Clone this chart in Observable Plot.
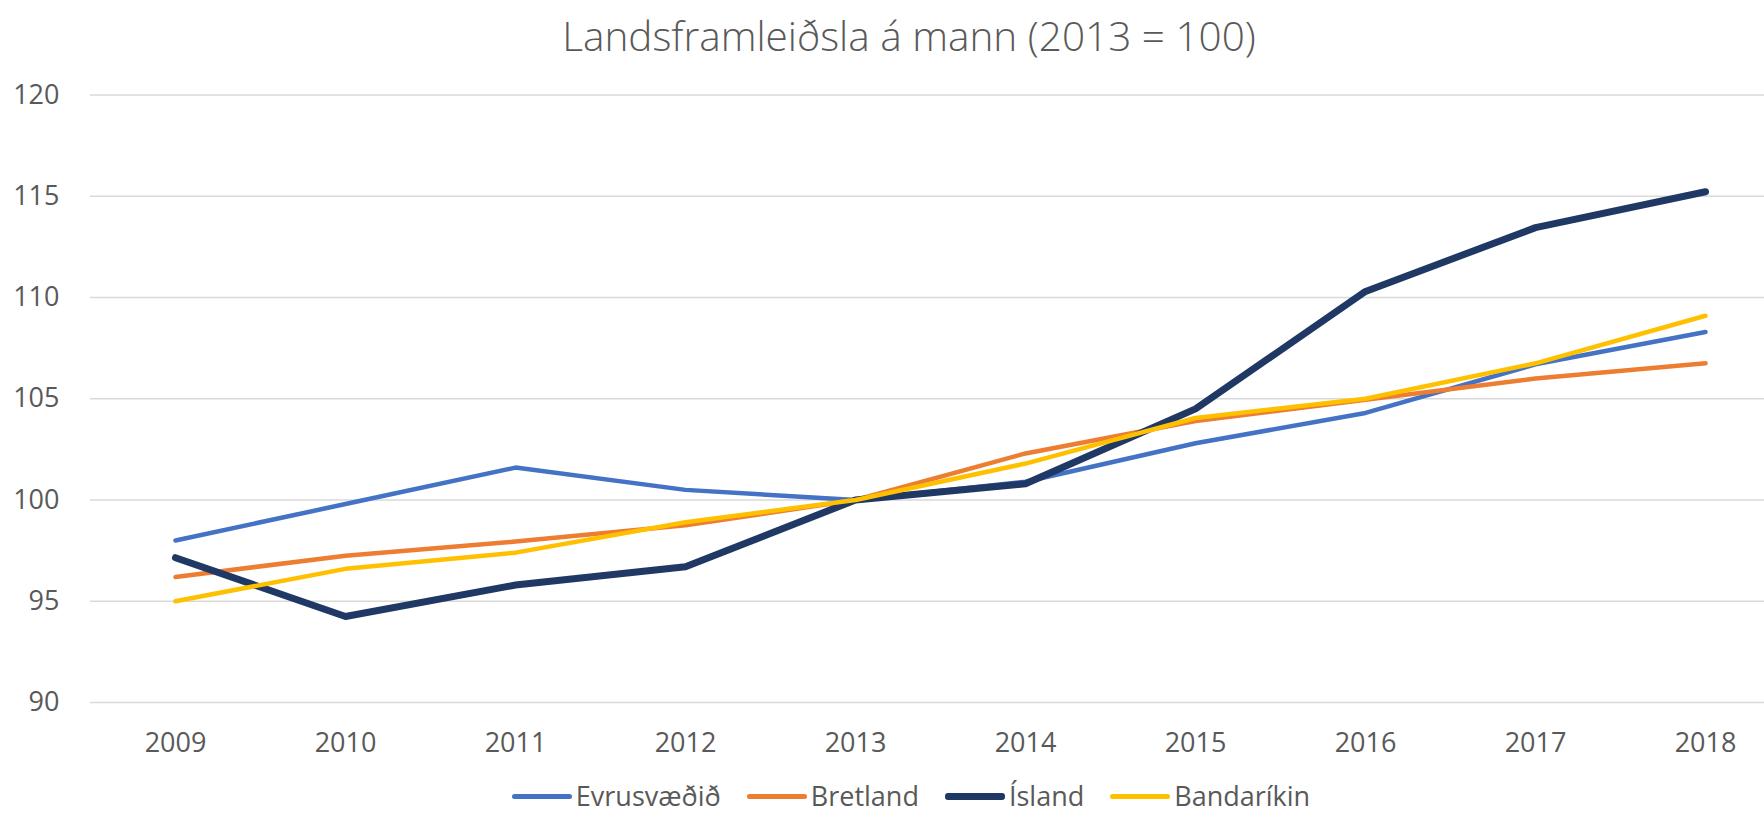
<!DOCTYPE html>
<html>
<head>
<meta charset="utf-8">
<script src="https://cdn.jsdelivr.net/npm/d3@7"></script>
<script src="https://cdn.jsdelivr.net/npm/@observablehq/plot@0.6"></script>
<style>
  html, body { margin: 0; padding: 0; background: #fff; overflow: hidden; }
  body { width: 1764px; height: 813px; font-family: "Open Sans", sans-serif; color: #595959; }
  #title { height: 72px; line-height: 72px; text-align: center; font-size: 40.5px; font-weight: 300; padding-left: 54px; box-sizing: border-box; margin-bottom: 3px; }
  #legend { height: 30px; line-height: 30px; margin-top: 1px; display: flex; justify-content: center; align-items: center; padding-left: 58px; box-sizing: border-box; font-size: 27px; }
  .item { display: flex; align-items: center; margin: 0 13px; }
  .sw { width: 60px; border-radius: 3px; margin-right: 4px; }
</style>
</head>
<body>
<div id="title">Landsframleiðsla á mann (2013 = 100)</div>
<div id="chart"></div>
<div id="legend"></div>
<script>
const years = ["2009","2010","2011","2012","2013","2014","2015","2016","2017","2018"];
const seriesNames = ["Evrusvæðið","Bretland","Ísland","Bandaríkin"];
const evrusvaedid = [98.0, 99.8, 101.6, 100.5, 100, 100.9, 102.8, 104.3, 106.7, 108.3];
const bretland    = [96.2, 97.25, 97.95, 98.75, 100, 102.3, 103.9, 104.95, 106.0, 106.75];
const island      = [97.15, 94.25, 95.8, 96.7, 100, 100.8, 104.5, 110.3, 113.45, 115.22];
const bandarikin  = [95.0, 96.6, 97.4, 98.9, 100, 101.8, 104.05, 105.0, 106.75, 109.1];
const yTicks = [90, 95, 100, 105, 110, 115, 120];

const colors = {"Evrusvæðið": "#4472C4", "Bretland": "#ED7D31", "Ísland": "#1F3864", "Bandaríkin": "#FFC000"};
const widths = {"Evrusvæðið": 4.5, "Bretland": 4.5, "Ísland": 7, "Bandaríkin": 4.5};
const valuesBy = {"Evrusvæðið": evrusvaedid, "Bretland": bretland, "Ísland": island, "Bandaríkin": bandarikin};

const data = [];
for (const s of seriesNames) {
  valuesBy[s].forEach((v, i) => data.push({series: s, year: years[i], value: v}));
}

const chart = Plot.plot({
  width: 1764,
  height: 705,
  marginLeft: 90,
  marginRight: 0,
  marginTop: 19.5,
  marginBottom: 78,
  style: {fontFamily: "Open Sans, sans-serif", fontSize: "27px", color: "#595959", background: "#fff"},
  x: {type: "point", domain: years, range: [175, 1705], padding: 0, label: null},
  y: {domain: [90, 120], label: null},
  marks: [
    Plot.gridY(yTicks, {stroke: "#d9d9d9", strokeOpacity: 1, strokeWidth: 1.5}),
    Plot.axisY(yTicks, {tickSize: 0, tickPadding: 31, fill: "#595959", label: null, fontSize: 27}),
    Plot.axisX({tickSize: 0, tickPadding: 30, fill: "#595959", label: null, fontSize: 27}),
    ...seriesNames.map(s => Plot.line(data.filter(d => d.series === s), {
      x: "year", y: "value", stroke: colors[s], strokeWidth: widths[s],
      strokeLinecap: "round", strokeLinejoin: "round"
    }))
  ]
});
document.getElementById("chart").appendChild(chart);

const legend = document.getElementById("legend");
for (const s of seriesNames) {
  const item = document.createElement("div");
  item.className = "item";
  const sw = document.createElement("span");
  sw.className = "sw";
  sw.style.background = colors[s];
  sw.style.height = (s === "Ísland" ? 7 : 5) + "px";
  const t = document.createElement("span");
  t.textContent = s;
  item.appendChild(sw);
  item.appendChild(t);
  legend.appendChild(item);
}
</script>
</body>
</html>
